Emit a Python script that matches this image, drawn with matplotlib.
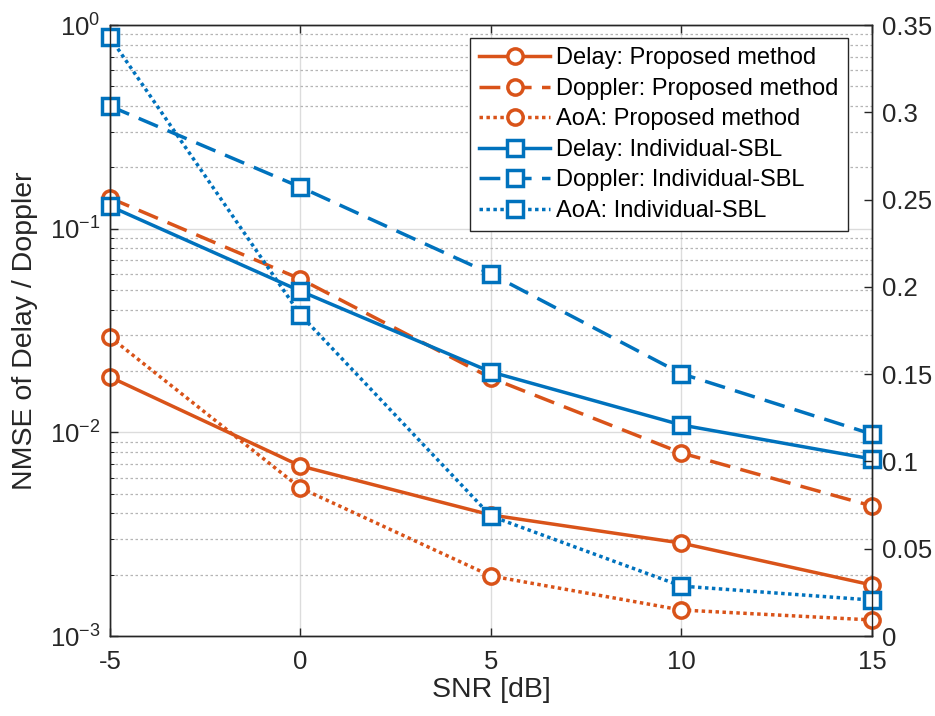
import numpy as np
import matplotlib
matplotlib.use("Agg")
from matplotlib import pyplot as plt
from matplotlib.ticker import FuncFormatter, LogLocator, NullFormatter

plt.rcParams['font.family'] = ['Liberation Sans', 'DejaVu Sans']
plt.rcParams['mathtext.fontset'] = 'custom'
plt.rcParams['mathtext.rm'] = 'Liberation Sans'

# dane
snr = [-5, 0, 5, 10, 15]

delay_prop = [0.0187, 0.00684, 0.00393, 0.00286, 0.00178]
doppler_prop = [0.1415, 0.0566, 0.0185, 0.00792, 0.00435]
aoa_prop = [0.1713, 0.0848, 0.0344, 0.0149, 0.0092]      # prawa os

delay_sbl = [0.129, 0.0494, 0.0198, 0.01087, 0.0074]
doppler_sbl = [0.40, 0.160, 0.060, 0.0194, 0.0098]
aoa_sbl = [0.343, 0.184, 0.0687, 0.0286, 0.0206]          # prawa os

right_ticks = [0, 0.05, 0.1, 0.15, 0.2, 0.25, 0.3, 0.35]

orange = "#D95319"
blue = "#0072BD"

fig = plt.figure(figsize=(9.35, 7.16), dpi=100)
ax = fig.add_axes([0.1176, 0.1117, 0.815, 0.8533])
ax2 = ax.twinx()

common = dict(linewidth=2.5, markersize=11, markeredgewidth=2.5, markerfacecolor="white")
dash = (0, (6, 3))
dot = (0, (1, 1))

l1, = ax.plot(snr, delay_prop, "-", marker="o", color=orange, label="Delay: Proposed method", **common)
l2, = ax.plot(snr, doppler_prop, linestyle=dash, marker="o", color=orange, label="Doppler: Proposed method", **common)
l4, = ax.plot(snr, delay_sbl, "-", marker="s", color=blue, label="Delay: Individual-SBL", **common)
l5, = ax.plot(snr, doppler_sbl, linestyle=dash, marker="s", color=blue, label="Doppler: Individual-SBL", **common)
l3, = ax2.plot(snr, aoa_prop, linestyle=dot, marker="o", color=orange, label="AoA: Proposed method", **common)
l6, = ax2.plot(snr, aoa_sbl, linestyle=dot, marker="s", color=blue, label="AoA: Individual-SBL", **common)

for l in (l1, l2, l3, l4, l5, l6):
    l.set_clip_on(False)

ax.set_yscale("log")
ax.set_ylim(1e-3, 1)
ax.set_xlim(-5, 15)
ax.set_xticks(snr)
ax.set_xticklabels([str(s) for s in snr])
ax.yaxis.set_major_locator(LogLocator(base=10, numticks=10))
ax.yaxis.set_minor_locator(LogLocator(base=10, subs=np.arange(2, 10), numticks=20))
ax.yaxis.set_minor_formatter(NullFormatter())

ax2.set_ylim(0, 0.35)
ax2.set_yticks(right_ticks)
ax2.yaxis.set_major_formatter(FuncFormatter(lambda v, p: "%g" % v))

# siatka jak w matlabie
ax.grid(True, which="major", color="#dcdcdc", linewidth=1.0, linestyle="-")
ax.grid(True, which="minor", axis="y", color="#b5b5b5", linewidth=0.9, linestyle=(0, (2, 2)))
ax.set_axisbelow(True)

for a in (ax, ax2):
    a.tick_params(direction="in", labelsize=18.5, length=6, width=1.0, colors="#262626", pad=7)
    a.tick_params(which="minor", direction="in", length=3)
    for s in a.spines.values():
        s.set_color("#262626")
        s.set_linewidth(1.0)
ax.tick_params(top=True, which="both")
ax.tick_params(axis="x", pad=10)

ax.set_xlabel("SNR [dB]", fontsize=20.5, color="#262626", labelpad=2)
ax.set_ylabel("NMSE of Delay / Doppler", fontsize=20.5, color="#262626", labelpad=8)

leg = ax2.legend(handles=[l1, l2, l3, l4, l5, l6], loc="upper right",
                 bbox_to_anchor=(0.9685, 0.979), borderaxespad=0, fontsize=17,
                 frameon=True, fancybox=False, edgecolor="#262626", framealpha=1,
                 handlelength=3.0, borderpad=0.4, labelspacing=0.36, handletextpad=0.25)
leg.get_frame().set_linewidth(1.0)

fig.savefig("out.png", dpi=100)
